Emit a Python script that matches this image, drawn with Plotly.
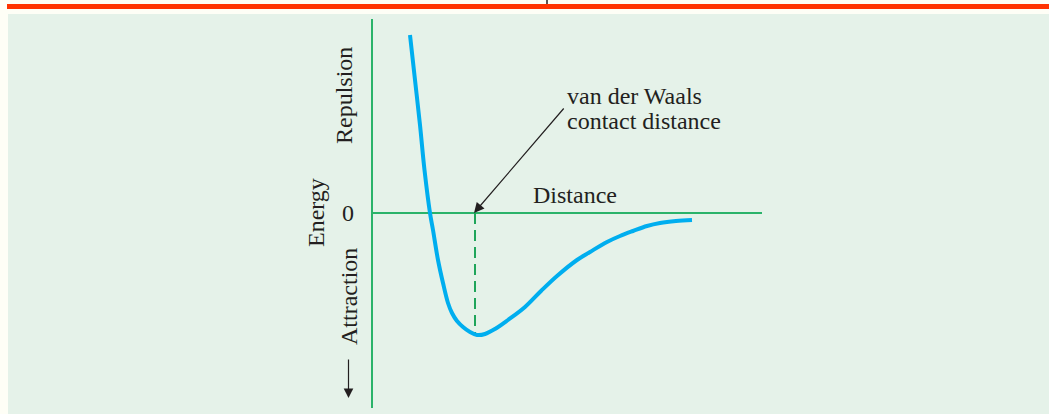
import plotly.graph_objects as go

# van der Waals potential curve
# distance (arbitrary units, 0 = energy axis) and energy (0 = distance axis)
distance = [0.38, 0.43, 0.48, 0.525, 0.58, 0.61, 0.66, 0.71, 0.76, 0.80,
            0.85, 0.91, 0.98, 1.05, 1.13, 1.23, 1.36,
            1.53, 1.69, 1.85, 2.05, 2.18, 2.35, 2.48, 2.61, 2.75, 2.88,
            3.04, 3.20]
energy = [1.78, 1.33, 0.88, 0.43, 0.00, -0.17, -0.47, -0.70, -0.90, -1.00,
          -1.08, -1.14, -1.19, -1.22, -1.21, -1.16, -1.07,
          -0.94, -0.78, -0.63, -0.47, -0.39, -0.29, -0.23, -0.18, -0.13, -0.10,
          -0.08, -0.07]

contact_distance = 1.03   # where the dashed line drops
min_energy = -1.20
axis_x_end = 3.90
axis_y_top = 1.94
axis_y_bottom = -1.95

FONT = "Liberation Serif, Times New Roman, serif"
TXT = "#231f20"
GREEN = "#2bb36a"

fig = go.Figure()

fig.add_trace(go.Scatter(x=distance, y=energy, mode="lines",
                         line=dict(color="#00aeef", width=4, shape="spline", smoothing=1.0),
                         hoverinfo="skip", showlegend=False))

shapes = [
    # light green panel + header band
    dict(type="rect", xref="paper", yref="paper", x0=8/1049, x1=1, y0=0, y1=1 - 14/414,
         fillcolor="#e5f2e9", line_width=0, layer="below"),
    dict(type="rect", xref="paper", yref="paper", x0=7/1049, x1=1, y0=1 - 9/414, y1=1 - 4/414,
         fillcolor="#ff3300", line_width=0, layer="below"),
    dict(type="line", xref="paper", yref="paper", x0=547/1049, x1=547/1049, y0=1 - 4/414, y1=1,
         line=dict(color=TXT, width=1.5), layer="below"),
    # axes
    dict(type="line", x0=0, x1=0, y0=axis_y_bottom, y1=axis_y_top,
         line=dict(color=GREEN, width=2), layer="below"),
    dict(type="line", x0=0, x1=axis_x_end, y0=0, y1=0,
         line=dict(color=GREEN, width=2), layer="below"),
    # dashed contact distance
    dict(type="line", x0=contact_distance, x1=contact_distance, y0=0, y1=min_energy,
         line=dict(color="#1fa55a", width=2, dash="11px,6px"), layer="below"),
]

def label(text, x, y, angle=0, xanchor="center", size=24):
    return dict(text=text, x=x, y=y, showarrow=False, textangle=angle,
                xanchor=xanchor, yanchor="middle",
                font=dict(family=FONT, size=size, color=TXT))

annotations = [
    label("Repulsion", -0.28, 1.17, angle=-90),
    label("Attraction", -0.23, -0.84, angle=-90),
    label("Energy", -0.56, 0.0, angle=-90),
    label("0", -0.24, 0.0),
    label("Distance", 1.59, 0.18, xanchor="left"),
    label("van der Waals", 1.93, 1.17, xanchor="left"),
    label("contact distance", 1.93, 0.92, xanchor="left"),
    # pointer arrow to the contact distance
    dict(text="", x=1.02, y=0, ax=91, ay=-106, showarrow=True,
         arrowhead=2, arrowsize=1.7, arrowwidth=1.2, arrowcolor=TXT, standoff=0),
    # attraction arrow
    dict(text="", x=-0.235, y=-1.85, ax=0, ay=-40, showarrow=True,
         arrowhead=2, arrowsize=1.6, arrowwidth=1.2, arrowcolor=TXT, standoff=0),
]

fig.update_layout(
    width=1049, height=414,
    margin=dict(l=0, r=0, t=0, b=0),
    paper_bgcolor="#fefef6", plot_bgcolor="rgba(0,0,0,0)",
    xaxis=dict(range=[-3.72, 6.77], visible=False, fixedrange=True),
    yaxis=dict(range=[-2.01, 2.13], visible=False, fixedrange=True),
    shapes=shapes, annotations=annotations,
)

# page body has a default 8px margin; drop it so the figure fills the window
fig.write_html("out.html", post_script="document.body.style.margin='0px';",
               config={"displayModeBar": False})
